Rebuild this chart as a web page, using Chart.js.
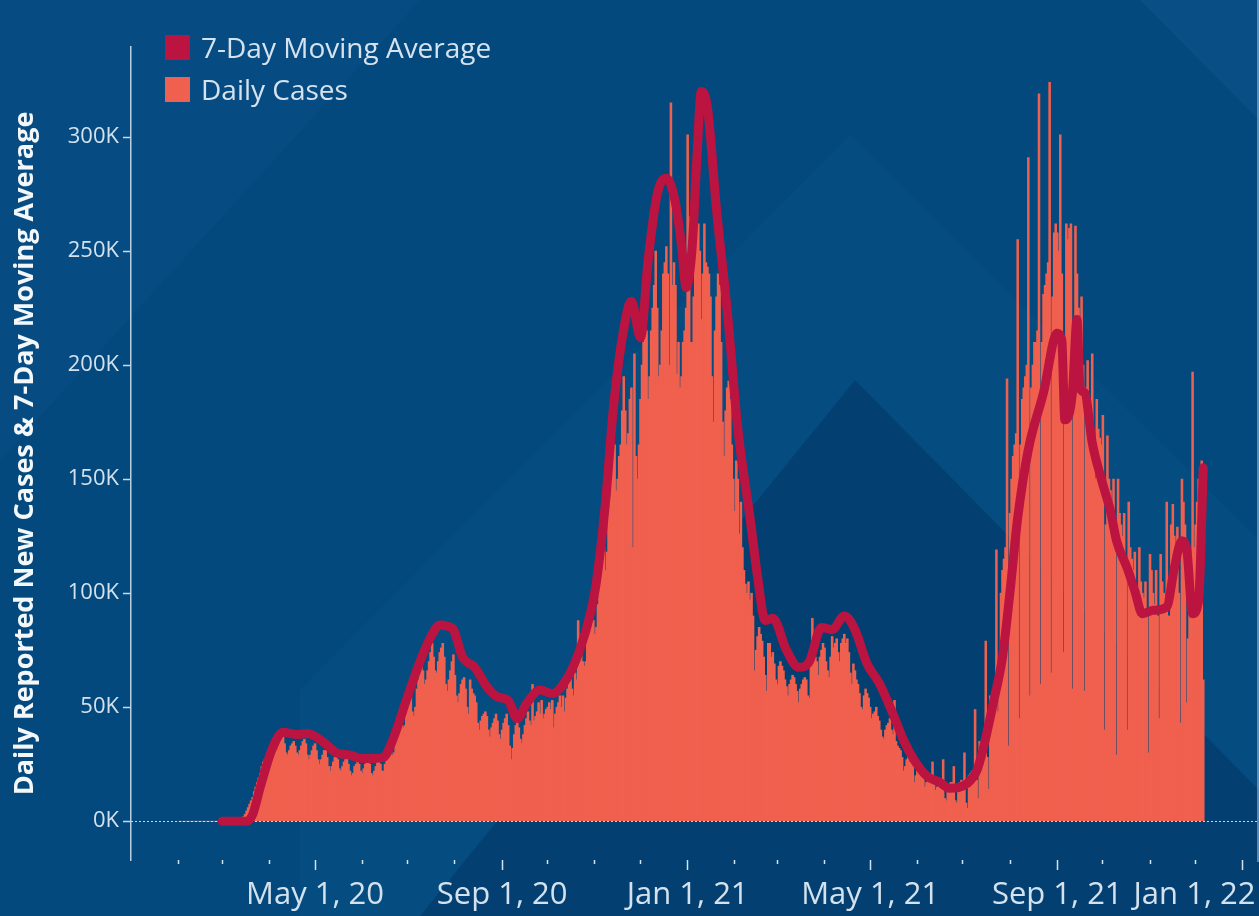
<!DOCTYPE html>
<html>
<head>
<meta charset="utf-8">
<script src="https://cdn.jsdelivr.net/npm/chart.js@4.4.1/dist/chart.umd.min.js"></script>
<style>
  html, body { margin: 0; padding: 0; background: #03497d; overflow: hidden; }
  #wrap { position: relative; width: 1259px; height: 916px; }
  #legend { position: absolute; left: 165px; top: 26px; font-family: 'Open Sans', sans-serif; font-size: 28px; color: #d6e3ee; }
  .item { display: flex; align-items: center; height: 42px; }
  .sw { width: 25px; height: 25px; margin-right: 11px; }
</style>
</head>
<body>
<div id="wrap">
  <canvas id="chart" width="1259" height="916"></canvas>
  <div id="legend"></div>
</div>
<script>
const FONT = "'Open Sans', sans-serif";

// daily reported cases, in thousands, one value per day starting at dailyStart (a Sunday)
const dailyStart = '2020-02-02';
const dailyCasesK = [
  0,0,0,0,0,0,0,  0,0,0,0,0,0,0,  0,0,0,0,0,0,0,  0,0,0,0,0,0,0.1,
  0.1,0.1,0.1,0.1,0.2,0.2,0.3,  0.3,0.4,0.5,0.6,0.8,1.0,1.3,
  2,3,4.5,6,7.5,9,10.5,  13,15,17,19,21,24,26,  27,28,30,32,33,35,34,
  32,31,33,35,36,37,34,  30,29,31,33,34,35,33,  30,29,31,33,35,36,34,
  29,27,29,31,33,34,31,  27,25,27,29,31,31,28,  24,22,24,26,28,29,27,
  23,22,24,26,27,28,25,  22,20,21,24,25,26,25,  22,21,23,25,26,27,25,
  21,20,22,24,26,27,25,  22,22,25,28,30,33,32,  29,30,35,38,42,46,44,
  41,42,47,51,55,57,48,  46,50,58,62,65,70,66,  60,62,66,70,74,78,72,
  66,65,70,74,76,78,72,  60,57,62,66,70,73,64,  55,52,56,60,62,63,58,
  50,47,62,58,56,55,52,  43,40,44,46,47,48,46,  40,37,41,43,45,47,44,
  38,36,40,43,45,47,42,  33,27,32,38,42,45,41,  36,34,38,42,45,48,44,
  42,60,44,46,48,52,47,  53,45,47,49,50,52,49,  53,41,47,50,52,55,50,
  55,48,54,58,62,64,58,  55,65,62,88,72,76,70,  68,70,85,82,88,95,88,
  82,85,95,105,120,128,120,  110,118,135,142,155,175,165,  145,150,160,165,180,195,180,
  165,170,185,190,120,205,160,  150,165,185,200,210,225,215,  185,195,215,225,235,250,225,
  195,200,215,240,245,252,240,  200,315,235,245,235,196,210,  190,195,210,215,225,301,265,
  210,210,230,250,262,262,250,  220,240,262,245,243,240,230,  195,175,215,230,240,235,210,
  175,160,180,190,193,185,165,  150,136,158,150,126,140,120,  110,104,100,105,97,100,90,
  66,75,81,85,82,79,72,  64,57,78,78,72,74,69,  62,60,68,70,68,66,62,
  59,55,60,62,64,63,60,  57,52,58,60,62,63,62,  55,54,70,89,75,72,70,
  64,72,75,78,76,70,66,  63,72,81,76,78,80,74,  70,78,80,82,78,80,74,
  65,60,69,66,62,60,56,  50,49,55,58,56,54,50,  45,47,48,50,46,44,40,
  37,36,40,42,43,45,40,  38,53,35,33,32,31,28,  22,24,27,28,26,28,25,
  17,20,23,22,21,22,19,  15,17,19,20,18,26,16,  13.6,15,16,17,16,27,10,
  9,15,16,17,17,24,9,  8,16,17,18,17,30,8,  5.7,20,21,22,21,49,18,
  10,35,30,32,33,79,28,  14,55,50,52,55,119,48,  60,100,110,115,120,194,33,
  135,150,160,165,170,255,45,  165,185,190,195,200,291,55,  190,200,210,210,215,319,60,
  210,231,235,240,245,324,65,  230,258,262,258,250,301,240,  74,200,262,255,260,262,58,
  200,261,240,225,220,230,200,  57,190,202,180,178,205,170,  150,185,172,168,165,178,40,
  130,169,150,145,140,150,120,  29,150,135,130,125,135,110,  40,140,120,115,110,118,100,
  90,120,105,100,98,105,90,  30,117,110,100,95,110,90,  45,117,105,100,98,140,90,
  90,130,139,125,120,129,100,  43,150,140,130,52,80,100,  110,197,120,130,140,150,155,
  158,62
];

// 7-day moving average: day number since 2020-01-01, value in thousands
const maDay = [60,76,80,85,93,100,109,116,126,135,144,152,160,166,172,181,190,198,203,208,212,218,226,234,241,248,254,260,269,277,287,295,302,306,312,317,323,329,335,340,346,352,358,362,365,369,372,375,379,385,392,399,407,412,417,422,431,439,446,454,461,469,476,484,492,500,508,515,523,532,538,550,556,560,567,573,578,583,590,600,609,612,614,619,622,624,627,632,638,644,648,655,660,665,672,681,686,691,694,698,702,705];
const maK   = [0,0,3,15,32,39,38,38.5,35,30,29,27.5,27.5,28,35.5,53,70,82,86,85.5,84,72,67.5,59,54.5,53,45,51.5,57.5,56,63,75,91,105,140,180,212,228,212,246,275,282,271,252,234,252,290,320,313,268,224,172,133,107,88,89,75,67.5,70,85,84,90,84,69,60.5,48.7,35.5,26.8,20,17,14.5,16.7,22,31,52,72,101,133,163,188,214,211,176,188,220,190,188,166,150,136,123,111,101,91,92.5,94,111,123,120,91,97,155];

// axes
const yTickValues = [0, 50000, 100000, 150000, 200000, 250000, 300000];
const xTickDates = ['2020-02-01','2020-03-01','2020-04-01','2020-05-01','2020-06-01','2020-07-01','2020-08-01','2020-09-01','2020-10-01','2020-11-01','2020-12-01','2021-01-01','2021-02-01','2021-03-01','2021-04-01','2021-05-01','2021-06-01','2021-07-01','2021-08-01','2021-09-01','2021-10-01','2021-11-01','2021-12-01','2022-01-01'];
const xTickLabels = ['','','','May 1, 20','','','','Sep 1, 20','','','','Jan 1, 21','','','','May 1, 21','','','','Sep 1, 21','','','','Jan 1, 22'];

const DAY0 = Date.UTC(2020, 0, 1);
function dayNum(s) {
  const p = s.split('-').map(Number);
  return Math.round((Date.UTC(p[0], p[1] - 1, p[2]) - DAY0) / 86400000);
}

const startDay = dayNum(dailyStart);
const dailyPoints = dailyCasesK.map((v, i) => ({ x: startDay + i, y: v * 1000 }));
const maPoints = maDay.map((d, i) => ({ x: d, y: maK[i] * 1000 }));
const xTickDays = xTickDates.map(dayNum);

const backdrop = {
  id: 'backdrop',
  beforeDraw(chart) {
    const c = chart.ctx, w = chart.width, h = chart.height;
    c.save();
    c.fillStyle = '#03497d';
    c.fillRect(0, 0, w, h);
    const poly = (pts, col) => {
      c.beginPath();
      c.moveTo(pts[0][0], pts[0][1]);
      pts.slice(1).forEach(p => c.lineTo(p[0], p[1]));
      c.closePath();
      c.fillStyle = col;
      c.fill();
    };
    poly([[0, 0], [420, 0], [0, 460]], 'rgba(20,90,150,0.2)');
    poly([[850, 135], [1259, 540], [1259, 916], [300, 916], [300, 690]], 'rgba(40,110,170,0.08)');
    poly([[855, 380], [1259, 790], [1259, 916], [420, 916]], 'rgba(0,25,60,0.22)');
    poly([[1140, 0], [1259, 0], [1259, 120]], 'rgba(40,110,170,0.18)');
    c.restore();
  },
  afterDatasetDraw(chart, args) {
    if (args.meta.type !== 'bar') return;
    const c = chart.ctx, a = chart.chartArea;
    const y0 = Math.round(chart.scales.y.getPixelForValue(0)) + 0.5;
    c.save();
    c.strokeStyle = 'rgba(235,240,245,0.85)';
    c.lineWidth = 1;
    c.setLineDash([2, 2]);
    c.beginPath();
    c.moveTo(a.left, y0);
    c.lineTo(a.right, y0);
    c.stroke();
    c.restore();
  },
  afterDraw(chart) {
    const c = chart.ctx, a = chart.chartArea;
    c.save();
    c.strokeStyle = 'rgba(150,185,215,0.8)';
    c.lineWidth = 1.5;
    c.beginPath();
    c.moveTo(a.right, 0);
    c.lineTo(a.right, a.bottom + 2);
    c.stroke();
    c.restore();
  }
};

const lastTick = xTickLabels.length - 1;

const chart = new Chart(document.getElementById('chart'), {
  type: 'bar',
  data: {
    datasets: [
      {
        type: 'line',
        label: '7-Day Moving Average',
        data: maPoints,
        borderColor: '#bb1440',
        backgroundColor: '#bb1440',
        borderWidth: 9,
        pointRadius: 0,
        cubicInterpolationMode: 'monotone',
        borderJoinStyle: 'round',
        borderCapStyle: 'round',
        fill: false,
        order: 1
      },
      {
        type: 'bar',
        label: 'Daily Cases',
        data: dailyPoints,
        backgroundColor: '#f0604e',
        borderWidth: 0,
        barThickness: 1.9,
        grouped: false,
        order: 2
      }
    ]
  },
  options: {
    responsive: false,
    animation: false,
    layout: { padding: { top: 47, right: 1, left: 0, bottom: 0 } },
    plugins: { legend: { display: false }, tooltip: { enabled: false } },
    scales: {
      x: {
        type: 'linear',
        min: 0,
        max: 741,
        offset: false,
        afterBuildTicks: s => { s.ticks = xTickDays.map(v => ({ value: v })); },
        afterFit: s => { s.height = 56; s.paddingLeft = 0; s.paddingRight = 0; },
        border: { display: false },
        grid: {
          drawOnChartArea: false,
          offset: false,
          tickLength: 10,
          tickWidth: 1.5,
          tickColor: '#d3e2ee',
          tickBorderDash: ctx => (xTickLabels[ctx.index] ? [] : [4, 20])
        },
        ticks: {
          autoSkip: false,
          maxRotation: 0,
          padding: 7,
          color: '#d3e2ee',
          font: { family: FONT, size: 31 },
          // the last label is pulled left so it stays inside the canvas
          callback: (v, i) => (i === lastTick ? xTickLabels[i] + ' '.repeat(12) : xTickLabels[i])
        }
      },
      y: {
        min: -17000,
        max: 339500,
        afterBuildTicks: s => { s.ticks = yTickValues.map(v => ({ value: v })); },
        afterFit: s => { s.width = 131; },
        border: { display: true, color: '#b9d0e3', width: 1.5 },
        grid: { drawOnChartArea: false, tickLength: 8, tickWidth: 1.5, tickColor: '#c8dbea' },
        ticks: {
          padding: 4,
          color: '#d3e2ee',
          font: { family: FONT, size: 22 },
          callback: v => (v / 1000) + 'K'
        },
        title: {
          display: true,
          text: 'Daily Reported New Cases & 7-Day Moving Average',
          color: '#f4f7fa',
          font: { family: FONT, size: 27, weight: 'bold' },
          padding: { top: 9, bottom: 0 }
        }
      }
    }
  },
  plugins: [backdrop]
});

// legend built from the datasets
const legend = document.getElementById('legend');
chart.data.datasets.forEach(ds => {
  const row = document.createElement('div');
  row.className = 'item';
  const sw = document.createElement('span');
  sw.className = 'sw';
  sw.style.background = ds.type === 'line' ? ds.borderColor : ds.backgroundColor;
  const tx = document.createElement('span');
  tx.textContent = ds.label;
  row.appendChild(sw);
  row.appendChild(tx);
  legend.appendChild(row);
});
</script>
</body>
</html>
